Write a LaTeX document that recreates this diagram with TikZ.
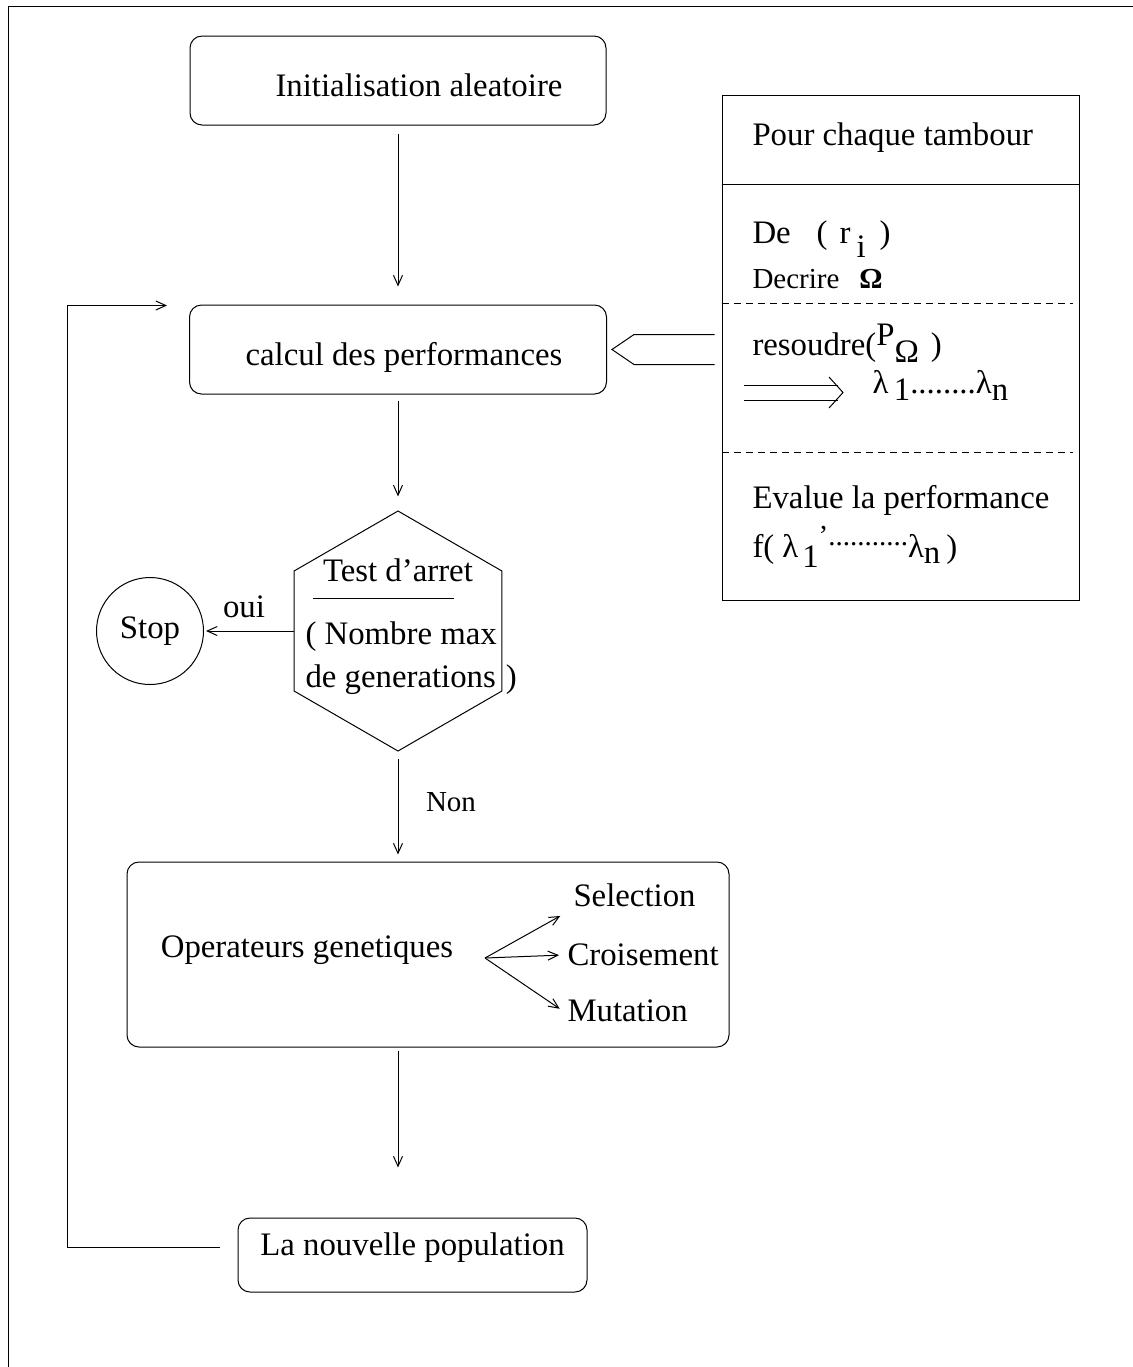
\documentclass[tikz,border=0pt]{standalone}
\usepackage{fontspec}
\setmainfont{Liberation Serif}
\usetikzlibrary{positioning,calc,arrows.meta,shapes.geometric}
\newcommand{\smalltxt}{\fontsize{14.5}{17}\selectfont}

\begin{document}
\begin{tikzpicture}[x=0.5pt, y=-0.5pt, line width=0.5pt,
  every node/.style={font=\fontsize{16.4}{20}\selectfont},
  box/.style={rectangle, draw, rounded corners=6pt},
  txt/.style={anchor=base west, inner sep=0pt},
  arrow/.style={-{Straight Barb[length=5pt,width=4.5pt]}},
  dashline/.style={dash pattern=on 3.5pt off 2.5pt}
]
\useasboundingbox (0,0) rectangle (1133,1367);
\draw (8,1367) -- (8,6) -- (1133,6);

\node[box, minimum width=208pt, minimum height=44.5pt, text height=16pt, text depth=0pt] (init) at (398,80.5) {\hspace*{21pt}Initialisation aleatoire};
\node[box, minimum width=208.5pt, minimum height=44.5pt, text height=19.5pt, text depth=3.6pt] (calc) at (398,349.5) {\hspace*{6pt}calcul des performances};
\node[regular polygon, regular polygon sides=6, shape border rotate=30, minimum size=120pt, inner sep=0pt, draw] (hex) at (398,631) {};
\node (tst) at (398,570) {Test d’arret};
\draw (313,598) -- (454,598);
\node[anchor=west, inner sep=0pt] (nmax) at (305,637) {( Nombre max};
\node[anchor=west, inner sep=0pt] (ngen) at (305,680) {de generations\hspace{5pt})};
\node[circle, draw, minimum size=53.5pt, inner sep=0pt] (stop) at (150,631) {Stop};
\node (oui) at (244,607) {oui};
\node[font=\smalltxt] (non) at (451,802) {Non};

\node[box, minimum width=301pt, minimum height=92.5pt] (ops) at (428,954.5) {};
\node (opg) at (307,950) {Operateurs genetiques};
\coordinate (fan) at (485,958);
\node[anchor=west, inner sep=2pt] (sel) at (569,895) {Selection};
\node[anchor=west, inner sep=2pt] (cro) at (563,955) {Croisement};
\node[anchor=west, inner sep=2pt] (mut) at (563,1011) {Mutation};

\node[box, minimum width=174.5pt, minimum height=37pt, text depth=11pt] (pop) at (412.5,1255) {La nouvelle population};

\node[draw, rectangle, minimum width=178.5pt, minimum height=252.5pt, inner sep=0pt] (panel) at (900.5,347.5) {};
\draw (722,184) -- (1079,184);
\draw[dashline] (722,303) -- (1073,303);
\draw[dashline] (722,452) -- (1073,452);
\node[txt] (pct) at (752,145) {Pour chaque tambour};
\node[txt] (der) at (752,243) {De\hspace{13pt}(\hspace{6pt}r\hspace{3pt}\raisebox{-7pt}{i}\hspace{7pt})};
\node[txt, font=\smalltxt] (dcr) at (752,288) {Decrire\hspace{10pt}\textbf{Ω}};
\node[txt] (res) at (752,355) {resoudre(\raisebox{5pt}{P}\raisebox{-3.5pt}{Ω}\hspace{6pt})};
\node[txt] (lam) at (872,393) {λ\,\raisebox{-3.5pt}{1}........λ\raisebox{-3.5pt}{n}};
\node[txt] (evl) at (752,508) {Evalue la performance};
\node[txt] (fla) at (752,557) {f(\hspace{4pt}λ\hspace{2pt}\raisebox{-5pt}{1}\raisebox{6pt}{\smalltxt ’...........}λ\raisebox{-3pt}{n}\hspace{3pt})};
\draw (744,385) -- (838,385);
\draw (744,400) -- (838,400);
\draw (829,377) -- (843,392.5) -- (829,408);

\coordinate (tip) at ([xshift=2.5pt]calc.east);
\draw ($(panel.west |- tip)+(-3.5pt,7.5pt)$) -- ($(tip)+(11pt,7.5pt)$) -- (tip)
  -- ($(tip)+(11pt,-7.5pt)$) -- ($(panel.west |- tip)+(-3.5pt,-7.5pt)$);

\draw[arrow, shorten <=4pt, shorten >=9pt] (init) -- (calc);
\draw[arrow, shorten <=3pt, shorten >=7pt] (calc) -- (hex);
\draw[arrow, shorten >=1pt] (hex) -- (stop);
\draw[arrow, shorten <=3.5pt, shorten >=3.5pt] (hex) -- (hex |- ops.north);
\draw[arrow, shorten >=5pt] (fan) -- (sel.south west);
\draw[arrow, shorten >=2pt] (fan) -- (cro.west);
\draw[arrow, shorten >=2pt] (fan) -- (mut.west);
\draw[arrow, shorten <=1.5pt, shorten >=25pt] (ops.south -| hex) -- (pop.north -| hex);
\draw[arrow, shorten >=11pt] ([xshift=-9pt,yshift=4pt]pop.west) -- ++(-76pt,0) |- ([yshift=-0.5pt]calc.north west);
\end{tikzpicture}
\end{document}
